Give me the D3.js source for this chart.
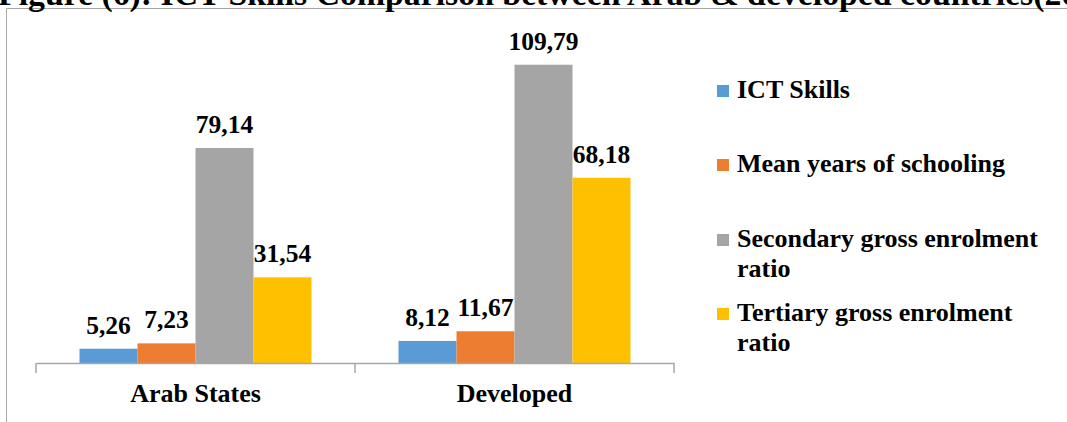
<!DOCTYPE html>
<html><head><meta charset="utf-8">
<script src="https://cdn.jsdelivr.net/npm/d3@7"></script>
<style>body{margin:0;background:#fff;overflow:hidden}svg{display:block}</style>
</head><body>
<script>
const categories = ["Arab States", "Developed"];
const seriesNames = ["ICT Skills", "Mean years of schooling", "Secondary gross enrolment ratio", "Tertiary gross enrolment ratio"];
const ictSkills = [5.26, 8.12];
const meanYears = [7.23, 11.67];
const secondary = [79.14, 109.79];
const tertiary = [31.54, 68.18];
const colors = ["#5B9BD5", "#ED7D31", "#A5A5A5", "#FFC000"];
const legendLines = [["ICT Skills"], ["Mean years of schooling"], ["Secondary gross enrolment", "ratio"], ["Tertiary gross enrolment", "ratio"]];
const titleText = "Figure (6): ICT Skills Comparison between Arab & developed countries(2017)";

const W = 1067, H = 422;
const font = '"Liberation Serif", "Times New Roman", serif';
const svg = d3.select("body").append("svg").attr("width", W).attr("height", H);
function txt(sel) { return sel.style("font-family", font).style("font-weight", "bold").attr("fill", "#000"); }

// frame
svg.append("path").attr("d", `M6.5,${H} V8.5 H${W}`).attr("fill", "none").attr("stroke", "#a6a6a6").attr("stroke-width", 1);

// cropped title (only its lower part is visible, as in the reference)
const title = txt(svg.append("text")).attr("x", -2).attr("y", 5).style("font-size", "27px").text(titleText);
{
  const n = titleText.indexOf("(2017");
  const wPart = title.node().getSubStringLength(0, n + 1);
  const fs = 27 * 1047 / wPart;
  title.style("font-size", fs.toFixed(2) + "px");
}

const series = [ictSkills, meanYears, secondary, tertiary];
const x0 = d3.scaleBand().domain(categories).range([36, 674]).paddingInner(0).paddingOuter(0);
const x1 = d3.scaleBand().domain(d3.range(4)).range([0, 232]);
const y = d3.scaleLinear().domain([0, 120]).range([363, 37]);

const groups = svg.selectAll("g.cat").data(categories).join("g")
  .attr("transform", d => `translate(${x0(d) + (x0.bandwidth() - 232) / 2},0)`);

groups.each(function(cat, ci) {
  const g = d3.select(this);
  series.forEach((s, si) => {
    g.append("rect").attr("x", x1(si)).attr("width", x1.bandwidth())
      .attr("y", y(s[ci])).attr("height", y(0) - y(s[ci])).attr("fill", colors[si]);
    txt(g.append("text")).attr("x", x1(si) + x1.bandwidth() / 2).attr("y", y(s[ci]) - 15)
      .attr("text-anchor", "middle").style("font-size", "25.5px").text(s[ci].toFixed(2).replace(".", ","));
  });
});

// axis
const axis = svg.append("g").attr("transform", "translate(0,363)")
  .call(d3.axisBottom(x0).tickSize(10).tickSizeOuter(0).tickFormat(""));
axis.select(".domain").attr("stroke", "#a6a6a6").attr("stroke-width", 1.5);
axis.selectAll(".tick").remove();
const tickPos = [x0.range()[0], x0(categories[1]), x0.range()[1]];
tickPos.forEach(t => axis.append("line").attr("x1", t).attr("x2", t).attr("y1", 0).attr("y2", 10).attr("stroke", "#a6a6a6").attr("stroke-width", 1.5));
categories.forEach(c => txt(svg.append("text")).attr("x", x0(c) + x0.bandwidth() / 2).attr("y", 402)
  .attr("text-anchor", "middle").style("font-size", "26px").text(c));

// legend
const legY = [91, 165, 240, 314];
const leg = svg.append("g");
legendLines.forEach((lines, i) => {
  leg.append("rect").attr("x", 717).attr("y", legY[i] - 6).attr("width", 12).attr("height", 12).attr("fill", colors[i]);
  lines.forEach((ln, j) => txt(leg.append("text")).attr("x", 737).attr("y", legY[i] + 7 + j * 30)
    .style("font-size", "26px").text(ln));
});
</script>
</body></html>
